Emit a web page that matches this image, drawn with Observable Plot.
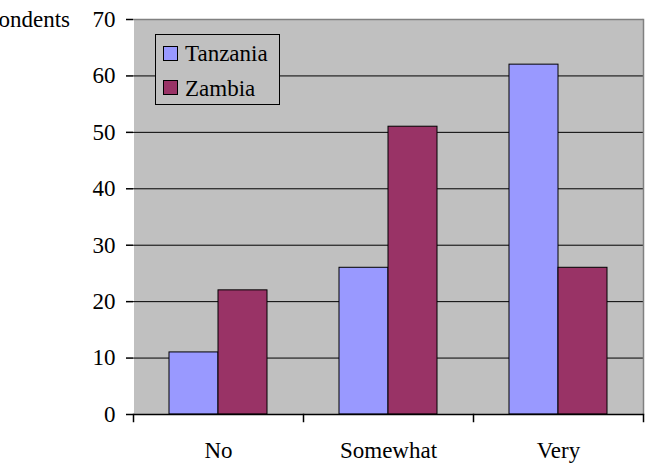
<!DOCTYPE html>
<html>
<head>
<meta charset="utf-8">
<script src="https://cdn.jsdelivr.net/npm/d3@7"></script>
<script src="https://cdn.jsdelivr.net/npm/@observablehq/plot@0.6"></script>
<style>
  html, body { margin: 0; padding: 0; background: #fff; }
  #wrap { position: relative; width: 650px; height: 470px; overflow: hidden; font-family: "Liberation Serif", "Times New Roman", "DejaVu Serif", serif; }
  #ylabel { position: absolute; right: 580px; top: 8px; font-size: 23px; line-height: 23px; white-space: nowrap; color: #000; }
  #legend { position: absolute; left: 155px; top: 34px; width: 123px; height: 69px; border: 1px solid #000; background: #c0c0c0; font-size: 23px; }
  .sw { position: absolute; left: 7px; width: 13px; height: 13px; border: 1px solid #000; }
  .lt { position: absolute; left: 29px; line-height: 23px; white-space: nowrap; }
  svg text { font-family: "Liberation Serif", "Times New Roman", "DejaVu Serif", serif !important; }
</style>
</head>
<body>
<div id="wrap">
  <div id="chart"></div>
  <div id="ylabel">% of respondents</div>
  <div id="legend"></div>
</div>
<script>
const categories = ["No", "Somewhat", "Very"];
const series = ["Tanzania", "Zambia"];
const tanzania = [11, 26, 62];
const zambia = [22, 51, 26];
const yTicks = [0, 10, 20, 30, 40, 50, 60, 70];
const colors = ["#9999FF", "#993366"];

const data = [];
categories.forEach((c, i) => {
  data.push({category: c, country: "Tanzania", value: tanzania[i]});
  data.push({category: c, country: "Zambia", value: zambia[i]});
});

const serifFont = "'Liberation Serif', 'Times New Roman', 'DejaVu Serif', serif";

const chart = Plot.plot({
  width: 650,
  height: 470,
  marginLeft: 133,
  marginRight: 7,
  marginTop: 19,
  marginBottom: 56,
  style: {fontFamily: serifFont, fontSize: "23px", color: "#000", background: "transparent"},
  fx: {domain: categories, padding: 0, label: null},
  x: {domain: series, paddingInner: 0, paddingOuter: 0.73, axis: null},
  y: {domain: [0, 70], label: null},
  color: {domain: series, range: colors},
  marks: [
    Plot.frame({fill: "#c0c0c0", shapeRendering: "crispEdges"}),
    Plot.ruleY(yTicks.filter(d => d > 0 && d < 70), {stroke: "#000", strokeWidth: 1}),
    Plot.ruleY([70], {stroke: "#808080", strokeWidth: 1.5}),
    Plot.frame({anchor: "right", stroke: "#808080", strokeWidth: 1.5, fx: ["Very"]}),
    Plot.barY(data, {fx: "category", x: "country", y: "value", fill: "country", stroke: "#000", strokeWidth: 1}),
    Plot.ruleY([0], {stroke: "#000", strokeWidth: 1.5}),
    Plot.frame({anchor: "left", stroke: "#000", strokeWidth: 1.5, insetTop: 395, insetBottom: -7}),
    Plot.frame({anchor: "right", stroke: "#000", strokeWidth: 1.5, insetTop: 395, insetBottom: -7, fx: ["Very"]}),
    Plot.axisY({ticks: yTicks, tickSize: 7, tickPadding: 11, line: true, label: null, fontSize: 23, strokeWidth: 1.5, fontFamily: serifFont}),
    Plot.axisFx({anchor: "bottom", tickSize: 0, tickPadding: 27, label: null, fontSize: 23, fontFamily: serifFont})
  ]
});
document.getElementById("chart").appendChild(chart);

const legend = document.getElementById("legend");
series.forEach((s, i) => {
  const sw = document.createElement("div");
  sw.className = "sw";
  sw.style.top = (i === 0 ? 11 : 45) + "px";
  sw.style.background = colors[i];
  const t = document.createElement("div");
  t.className = "lt";
  t.style.top = (i === 0 ? 7 : 42) + "px";
  t.textContent = s;
  legend.appendChild(sw);
  legend.appendChild(t);
});
</script>
</body>
</html>
